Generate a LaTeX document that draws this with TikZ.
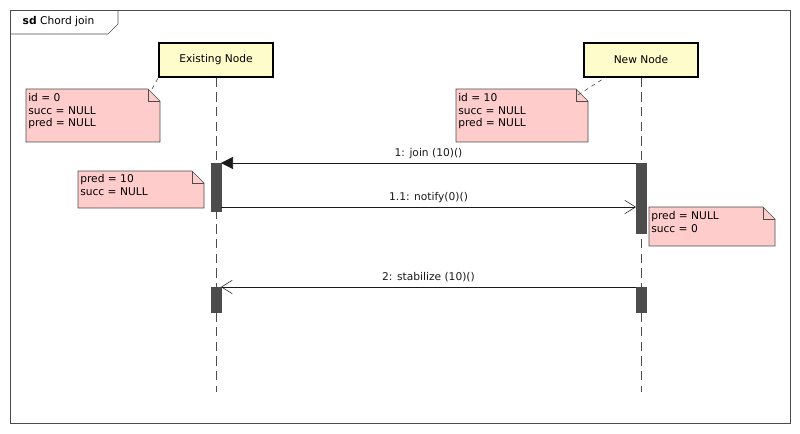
\documentclass[tikz,border=0pt]{standalone}
\usepackage{fontspec}
\setmainfont{DejaVu Sans}
\usetikzlibrary{arrows.meta}
\begin{document}
\begin{tikzpicture}[x=0.75pt,y=-0.75pt,
  every node/.style={font=\fontsize{8}{9.5}\selectfont},
  obj/.style={draw,line width=1.2pt,fill=yellow!20,minimum width=85.5pt,minimum height=25.5pt,inner sep=0pt},
  life/.style={draw,dashed,dash pattern=on 7pt off 4pt,gray!60!black},
  act/.style={draw,fill=white,gray!60!black},
  note/.style={draw=gray!60!black,fill=red!20},
  ntext/.style={align=left,anchor=north west,inner sep=0pt},
  msg/.style={draw,gray!20!black},
  conn/.style={draw,dashed,gray!40!black}]
\useasboundingbox (0,0) rectangle (800,434);
\draw[gray!60!black] (10,10) rectangle (790,423);
\draw[gray!60!black] (10,34) -- (108,34) -- (118,24) -- (118,10);
\node[anchor=west] (title) at (18,22) {\textbf{sd} Chord join};
% objects
\node[obj] (en) at (216,60) {Existing Node};
\node[obj] (nn) at (641,60) {New Node};
\coordinate (enb) at (216,392);
\coordinate (nnb) at (641,392);
\draw[life] (en.south) -- (enb);
\draw[life] (nn.south) -- (nnb);
% activations
\draw[act] (211,163) rectangle (221,211);
\draw[act] (636,163) rectangle (646,233);
\draw[act] (211,287) rectangle (221,312);
\draw[act] (636,287) rectangle (646,312);
% notes
\draw[note] (26,89) -- (148,89) -- (160,101) -- (160,142) -- (26,142) -- cycle;
\draw[gray!60!black] (148,89) -- (148,101) -- (160,101);
\node[ntext] (n1) at (28,93) {id = 0\\succ = NULL\\pred = NULL};
\draw[conn] (152,89) -- (en.south west) ++(20,0);
\draw[note] (456,89) -- (576,89) -- (588,101) -- (588,142) -- (456,142) -- cycle;
\draw[gray!60!black] (576,89) -- (576,101) -- (588,101);
\node[ntext] (n2) at (458,93) {id = 10\\succ = NULL\\pred = NULL};
\draw[conn] (578,95) -- (606,77);
\draw[note] (78,171) -- (192,171) -- (204,183) -- (204,208) -- (78,208) -- cycle;
\draw[gray!60!black] (192,171) -- (192,183) -- (204,183);
\node[ntext] (n3) at (80,174) {pred = 10\\succ = NULL};
\draw[note] (649,207) -- (763,207) -- (775,219) -- (775,246) -- (649,246) -- cycle;
\draw[gray!60!black] (763,207) -- (763,219) -- (775,219);
\node[ntext] (n4) at (651,211) {pred = NULL\\succ = 0};
% messages
\coordinate (m1a) at (636,163); \coordinate (m1b) at (221,163);
\draw[msg,-{Triangle[length=9pt,width=9pt]}] (m1a) -- (m1b) node[midway,above=0pt] {1: join (10)()};
\coordinate (m2a) at (221,207); \coordinate (m2b) at (636,207);
\draw[msg,-{Straight Barb[length=8pt,width=10pt]}] (m2a) -- (m2b) node[midway,above=0pt] {1.1: notify(0)()};
\coordinate (m3a) at (636,287); \coordinate (m3b) at (221,287);
\draw[msg,-{Straight Barb[length=8pt,width=10pt]}] (m3a) -- (m3b) node[midway,above=0pt] {2: stabilize (10)()};
\end{tikzpicture}
\end{document}
